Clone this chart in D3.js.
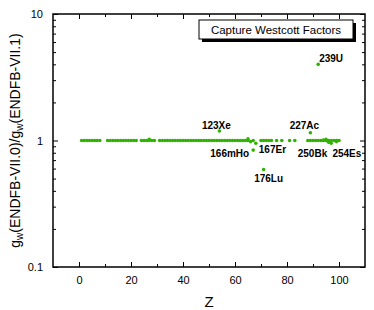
<!DOCTYPE html>
<html>
<head>
<meta charset="utf-8">
<script src="https://cdn.jsdelivr.net/npm/d3@7"></script>
<style>
  body { margin: 0; background: #fff; }
  svg { display: block; font-family: "Liberation Sans", Arial, sans-serif; }
</style>
</head>
<body>
<svg id="chart" width="374" height="310"></svg>
<script>
// Z (atomic number) of each nuclide and its Westcott factor ratio VII.0 / VII.1
var zValues = [
  1, 2, 3, 4, 5, 6, 7, 8,
  11, 12, 13, 14, 15, 16, 17, 18, 19, 20, 21, 22,
  24, 25, 26, 27, 27, 28, 29,
  31, 32, 33, 34, 35, 36, 37, 38, 39, 40, 41, 42, 43, 44, 45, 46, 47, 48,
  49, 50, 51, 52, 53, 54, 54, 55, 56, 57, 58, 59, 60, 61, 62, 63, 64, 65, 65, 66,
  67, 67, 68,
  70, 71, 71, 72, 73, 74, 76, 78, 81, 83,
  88, 89, 89, 90, 91, 92, 92, 93, 94, 94, 95, 95, 96, 96, 97, 97, 98, 99, 99, 100
];
var ratios = [
  1, 1, 1, 1, 1, 1, 1, 1,
  1, 1, 1, 1, 1, 1, 1, 1, 1, 1, 1, 1,
  1, 1, 1, 1, 1.02, 1, 1,
  1, 1, 1, 1, 1, 1, 1, 1, 1, 1, 1, 1, 1, 1, 1, 1, 1, 1,
  1, 1, 1, 1, 1, 1, 1.19, 1, 1, 1, 1, 1, 1, 1, 1, 1, 1, 1, 1.03, 0.98,
  1, 0.84, 0.95,
  1, 1, 0.59, 1, 1, 1, 1, 1, 1, 1,
  1, 1, 1.15, 1, 1, 1, 4.0, 1, 1, 1.01, 1, 1.02, 1, 0.97, 1, 0.95, 1, 1, 0.98, 1
];

// annotated nuclides
var labelNames = ["123Xe", "239U", "227Ac", "166mHo", "167Er", "176Lu", "250Bk", "254Es"];
var labelZ     = [54, 92, 89, 67, 68, 71, 97, 99];
var labelRatio = [1.19, 4.0, 1.15, 0.84, 0.95, 0.59, 0.95, 0.98];

var xTicks = [0, 20, 40, 60, 80, 100];
var yTicks = [0.1, 1, 10];
var legendTitle = "Capture Westcott Factors";

var points = zValues.map(function(z, i) { return {z: z, r: ratios[i]}; });

var svg = d3.select("#chart");
var margin = {top: 14, right: 9, bottom: 43, left: 53},
    width = 374 - margin.left - margin.right,
    height = 310 - margin.top - margin.bottom;
var g = svg.append("g").attr("transform", "translate(" + margin.left + "," + margin.top + ")");

var x = d3.scaleLinear().domain([-10, 110]).range([0, width]);
var y = d3.scaleLog().domain([0.1, 10]).range([height, 0]);

var minorY = [];
[0.1, 1].forEach(function(dec) {
  for (var k = 2; k <= 9; k++) minorY.push(+(dec * k).toFixed(2));
});

function axisStyle(sel) {
  sel.select(".domain").remove();
  sel.selectAll("line").attr("stroke", "#000").attr("stroke-width", 1);
  sel.selectAll("text").attr("fill", "#000").attr("font-size", "11px");
}

// bottom / top axes (ticks inward)
g.append("g").attr("transform", "translate(0," + height + ")")
  .call(d3.axisBottom(x).tickValues(xTicks).tickSize(-5).tickPadding(9).tickFormat(d3.format("d")))
  .call(axisStyle);
g.append("g").attr("transform", "translate(0," + height + ")")
  .call(d3.axisBottom(x).tickValues([10, 30, 50, 70, 90]).tickSize(-3).tickFormat(""))
  .call(axisStyle);
g.append("g")
  .call(d3.axisTop(x).tickValues(xTicks).tickSize(-5).tickFormat(""))
  .call(axisStyle);
g.append("g")
  .call(d3.axisTop(x).tickValues([10, 30, 50, 70, 90]).tickSize(-3).tickFormat(""))
  .call(axisStyle);

// left / right axes
g.append("g")
  .call(d3.axisLeft(y).tickValues(yTicks).tickSize(-5).tickPadding(10).tickFormat(function(d) { return String(d); }))
  .call(axisStyle);
g.append("g")
  .call(d3.axisLeft(y).tickValues(minorY).tickSize(-3).tickFormat(""))
  .call(axisStyle);
g.append("g").attr("transform", "translate(" + width + ",0)")
  .call(d3.axisRight(y).tickValues(yTicks).tickSize(-5).tickFormat(""))
  .call(axisStyle);
g.append("g").attr("transform", "translate(" + width + ",0)")
  .call(d3.axisRight(y).tickValues(minorY).tickSize(-3).tickFormat(""))
  .call(axisStyle);

// frame
g.append("rect")
  .attr("width", width).attr("height", height)
  .attr("fill", "none").attr("stroke", "#000").attr("stroke-width", 1.5);

// points
g.selectAll(".pt")
  .data(points)
  .enter().append("circle")
    .attr("class", "pt")
    .attr("cx", function(d) { return x(d.z); })
    .attr("cy", function(d) { return y(d.r); })
    .attr("r", 1.8)
    .attr("fill", "#2fb300");

// labels, offsets from their point
var labelOffsets = {
  "123Xe":  {dx: -3, dy: -2, anchor: "middle"},
  "239U":   {dx: 1, dy: -2, anchor: "start"},
  "227Ac":  {dx: -6, dy: -4, anchor: "middle"},
  "166mHo": {dx: -4, dy: 7, anchor: "end"},
  "167Er":  {dx: 3, dy: 10, anchor: "start"},
  "176Lu":  {dx: 5, dy: 13, anchor: "middle"},
  "250Bk":  {dx: -4, dy: 13.5, anchor: "end"},
  "254Es":  {dx: -4, dy: 15, anchor: "start"}
};
g.selectAll(".lbl")
  .data(labelNames)
  .enter().append("text")
    .attr("class", "lbl")
    .attr("x", function(d, i) { return x(labelZ[i]) + labelOffsets[d].dx; })
    .attr("y", function(d, i) { return y(labelRatio[i]) + labelOffsets[d].dy; })
    .attr("text-anchor", function(d) { return labelOffsets[d].anchor; })
    .attr("font-size", "10px")
    .attr("font-weight", "bold")
    .text(function(d) { return d; });

// legend box with shadow
var lg = svg.append("g").attr("transform", "translate(199,20)");
lg.append("rect").attr("x", 3).attr("y", 3).attr("width", 154).attr("height", 19).attr("fill", "#000");
lg.append("rect").attr("width", 154).attr("height", 19).attr("fill", "#fff").attr("stroke", "#000").attr("stroke-width", 1);
lg.append("text").attr("x", 77).attr("y", 14).attr("text-anchor", "middle")
  .attr("font-size", "11.5px").text(legendTitle);

// axis titles
svg.append("text")
  .attr("x", margin.left + width / 2).attr("y", 307)
  .attr("text-anchor", "middle").attr("font-size", "15px").text("Z");

var yt = svg.append("text")
  .attr("transform", "translate(20," + (margin.top + height / 2) + ") rotate(-90)")
  .attr("text-anchor", "middle").attr("font-size", "14px");
yt.append("tspan").text("g");
yt.append("tspan").attr("font-size", "10px").attr("dy", 3).text("w");
yt.append("tspan").attr("dy", -3).text("(ENDFB-VII.0)/g");
yt.append("tspan").attr("font-size", "10px").attr("dy", 3).text("w");
yt.append("tspan").attr("dy", -3).text("(ENDFB-VII.1)");
</script>
</body>
</html>
